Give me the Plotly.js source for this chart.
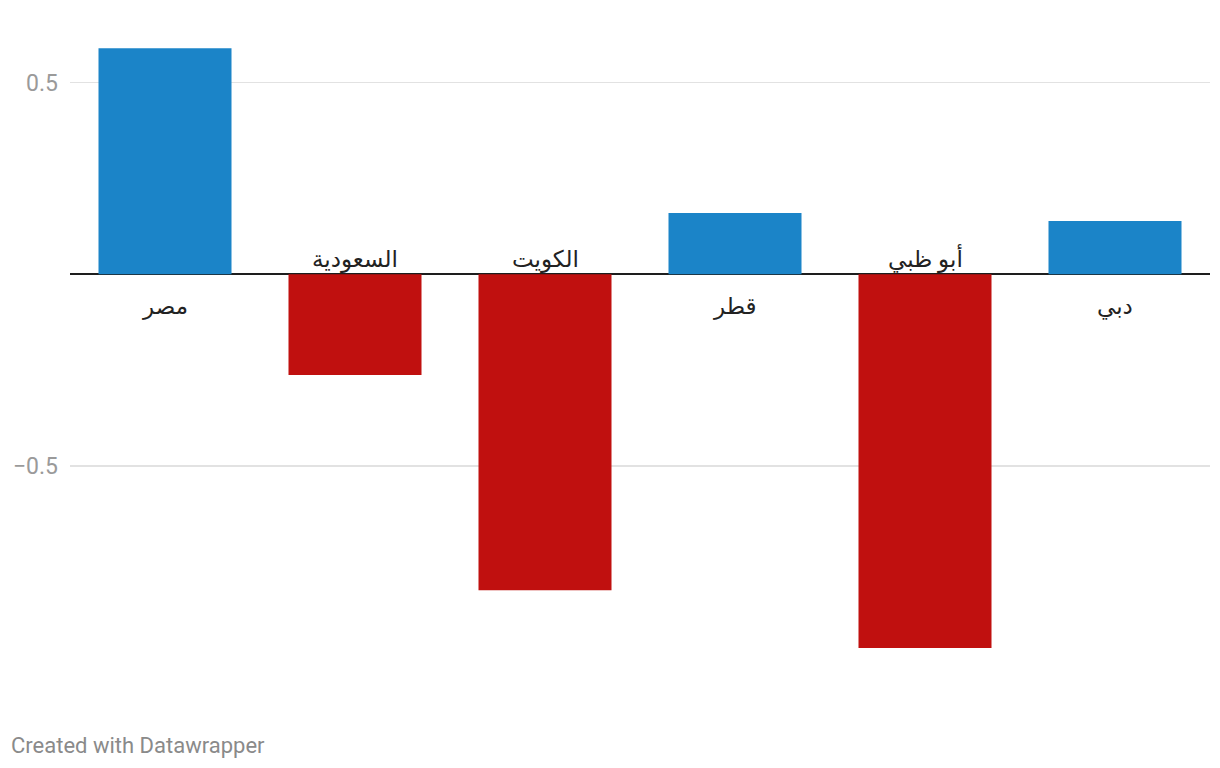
<!DOCTYPE html>
<html>
<head>
<meta charset="utf-8">
<script src="https://cdn.plot.ly/plotly-3.0.1.min.js"></script>
<style>
html,body{margin:0;padding:0;background:#fff;}
#chart{width:1220px;height:768px;}
</style>
</head>
<body>
<div id="chart"></div>
<script>
const categories = ["مصر", "السعودية", "الكويت", "قطر", "أبو ظبي", "دبي"];
const values = [0.59, -0.263, -0.824, 0.16, -0.975, 0.139];
const tickValues = [-0.5, 0.5];
const tickLabels = ["−0.5", "0.5"];
const footerText = "Created with Datawrapper";

const BLUE = "#1b84c8";
const RED = "#c0100f";
const FONT = "Roboto, 'Noto Sans', 'DejaVu Sans', sans-serif";

const trace = {
  type: "bar",
  x: categories,
  y: values,
  marker: { color: values.map(v => v >= 0 ? BLUE : RED) },
  width: 0.7,
  hoverinfo: "skip"
};

const annotations = categories.map((c, i) => ({
  x: c, y: 0, xref: "x", yref: "y",
  text: c,
  showarrow: false,
  yanchor: values[i] >= 0 ? "top" : "bottom",
  yshift: values[i] >= 0 ? -17 : -1,
  font: { family: FONT, size: 23, color: "#222" }
}));
annotations.push({
  xref: "paper", yref: "paper",
  x: (9 - 70) / 1140, y: (690 - 745) / 660,
  xanchor: "left", yanchor: "middle",
  text: footerText, showarrow: false,
  font: { family: FONT, size: 22, color: "#8a8a8a" }
});

const layout = {
  width: 1220, height: 768,
  margin: { l: 70, r: 10, t: 30, b: 78 },
  paper_bgcolor: "#fff", plot_bgcolor: "#fff",
  showlegend: false,
  bargap: 0.3,
  xaxis: {
    type: "category",
    range: [-0.5, 5.5],
    showticklabels: false,
    showgrid: false, zeroline: false, showline: false, ticks: ""
  },
  yaxis: {
    range: [(274.3 - 690) / 383.3, (274.3 - 30) / 383.3],
    tickvals: tickValues, ticktext: tickLabels,
    showgrid: true, gridcolor: "#e2e2e2", gridwidth: 1.5,
    zeroline: true, zerolinecolor: "#1e1e1e", zerolinewidth: 2,
    showline: false, ticks: "",
    ticklabelstandoff: 11,
    tickfont: { family: FONT, size: 23, color: "#9a9a9a" },
    fixedrange: true
  },
  annotations: annotations,
  font: { family: FONT }
};

Plotly.newPlot("chart", [trace], layout, { displayModeBar: false, staticPlot: true });
</script>
</body>
</html>
